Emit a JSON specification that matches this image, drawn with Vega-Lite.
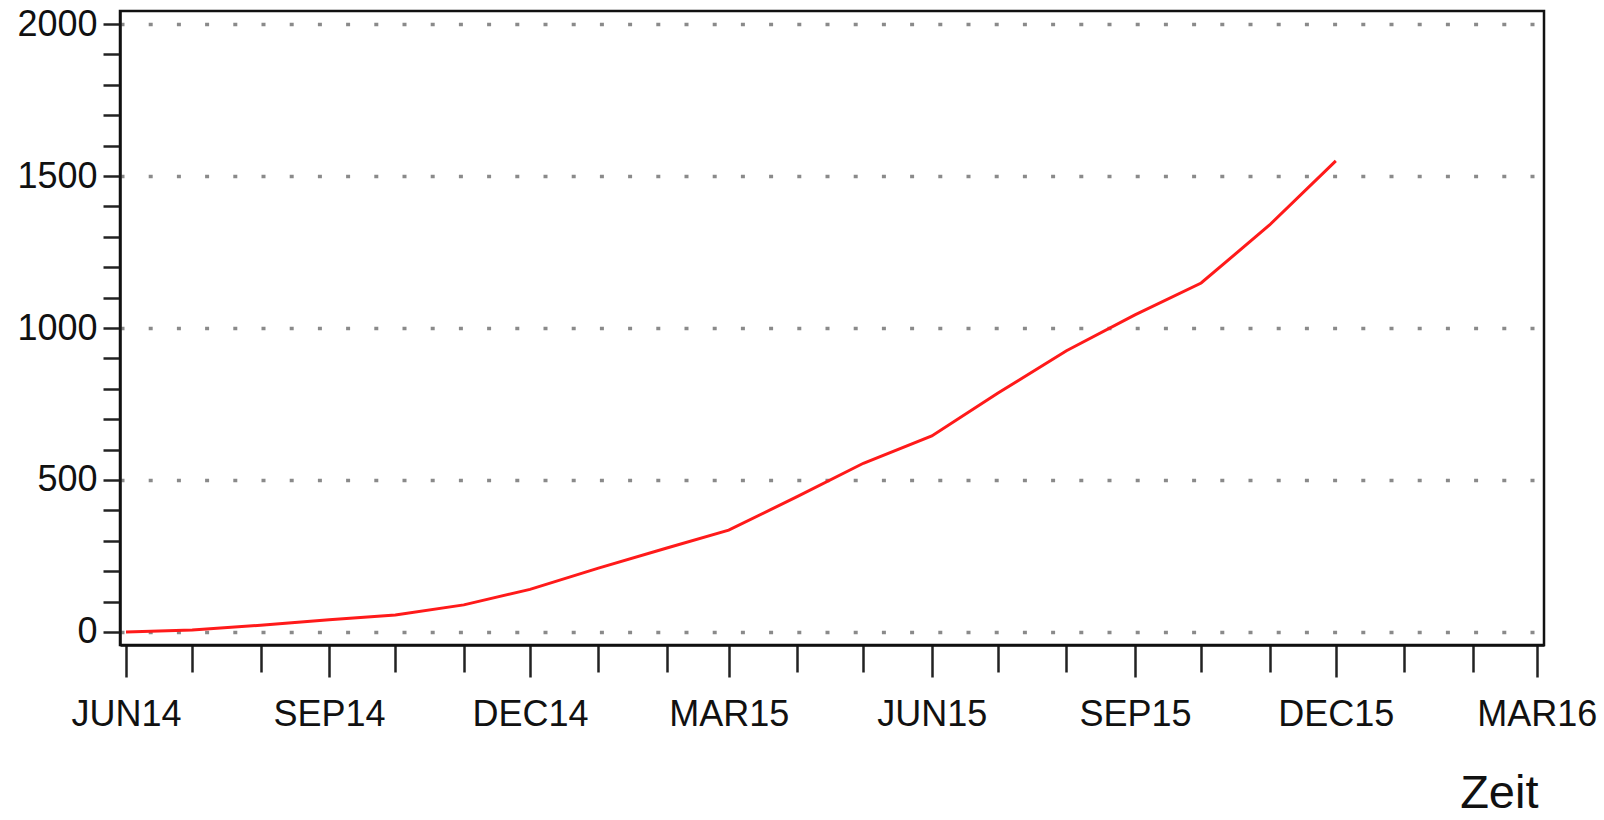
{
  "$schema": "https://vega.github.io/schema/vega-lite/v6.json",
  "autosize": "none",
  "width": 1424,
  "height": 634,
  "padding": {"left": 120, "top": 11, "right": 60, "bottom": 175},
  "background": "white",
  "config": {
    "view": {"stroke": "#111", "strokeWidth": 2.5},
    "font": "Liberation Sans"
  },
  "data": {
    "values": [
      {"datum": "2014-06-01", "wert": 0},
      {"datum": "2014-07-01", "wert": 6},
      {"datum": "2014-08-01", "wert": 22},
      {"datum": "2014-09-01", "wert": 40},
      {"datum": "2014-10-01", "wert": 56},
      {"datum": "2014-11-01", "wert": 89},
      {"datum": "2014-12-01", "wert": 140},
      {"datum": "2015-01-01", "wert": 210},
      {"datum": "2015-02-01", "wert": 276},
      {"datum": "2015-03-01", "wert": 335},
      {"datum": "2015-04-01", "wert": 445},
      {"datum": "2015-05-01", "wert": 555},
      {"datum": "2015-06-01", "wert": 645},
      {"datum": "2015-07-01", "wert": 786},
      {"datum": "2015-08-01", "wert": 925},
      {"datum": "2015-09-01", "wert": 1043},
      {"datum": "2015-10-01", "wert": 1148},
      {"datum": "2015-11-01", "wert": 1339},
      {"datum": "2015-12-01", "wert": 1550}
    ]
  },
  "mark": {"type": "line", "color": "#ff1a1a", "strokeWidth": 3},
  "encoding": {
    "x": {
      "field": "datum",
      "type": "temporal",
      "scale": {
        "type": "utc",
        "domain": [
          {"year": 2014, "month": 5, "date": 29, "hours": 7, "utc": true},
          {"year": 2016, "month": 3, "date": 4, "hours": 7, "utc": true}
        ]
      },
      "axis": {
        "title": "Zeit",
        "titleFont": "Liberation Sans",
        "titleFontSize": 47,
        "titleFontWeight": "normal",
        "titleColor": "#111",
        "titleAlign": "right",
        "titleBaseline": "alphabetic",
        "titleX": 1418,
        "titleY": 162,
        "values": [
          {"year": 2014, "month": 6, "date": 1, "utc": true},
          {"year": 2014, "month": 7, "date": 1, "utc": true},
          {"year": 2014, "month": 8, "date": 1, "utc": true},
          {"year": 2014, "month": 9, "date": 1, "utc": true},
          {"year": 2014, "month": 10, "date": 1, "utc": true},
          {"year": 2014, "month": 11, "date": 1, "utc": true},
          {"year": 2014, "month": 12, "date": 1, "utc": true},
          {"year": 2015, "month": 1, "date": 1, "utc": true},
          {"year": 2015, "month": 2, "date": 1, "utc": true},
          {"year": 2015, "month": 3, "date": 1, "utc": true},
          {"year": 2015, "month": 4, "date": 1, "utc": true},
          {"year": 2015, "month": 5, "date": 1, "utc": true},
          {"year": 2015, "month": 6, "date": 1, "utc": true},
          {"year": 2015, "month": 7, "date": 1, "utc": true},
          {"year": 2015, "month": 8, "date": 1, "utc": true},
          {"year": 2015, "month": 9, "date": 1, "utc": true},
          {"year": 2015, "month": 10, "date": 1, "utc": true},
          {"year": 2015, "month": 11, "date": 1, "utc": true},
          {"year": 2015, "month": 12, "date": 1, "utc": true},
          {"year": 2016, "month": 1, "date": 1, "utc": true},
          {"year": 2016, "month": 2, "date": 1, "utc": true},
          {"year": 2016, "month": 3, "date": 1, "utc": true}
        ],
        "labelExpr": "utcmonth(datum.value) % 3 === 2 ? upper(utcFormat(datum.value, '%b%y')) : ''",
        "labelFont": "Liberation Sans",
        "labelFontSize": 36,
        "labelColor": "#111",
        "labelOverlap": false,
        "labelFlush": false,
        "labelBound": false,
        "labelPadding": 20,
        "tickSize": {"condition": {"test": "utcmonth(datum.value) % 3 === 2", "value": 32}, "value": 27},
        "tickColor": "#222",
        "tickWidth": 2.5,
        "domainColor": "#111",
        "domainWidth": 2.5,
        "grid": false
      }
    },
    "y": {
      "field": "wert",
      "type": "quantitative",
      "scale": {"domain": [-43, 2043], "nice": false, "zero": false},
      "axis": {
        "title": null,
        "values": [0, 100, 200, 300, 400, 500, 600, 700, 800, 900, 1000, 1100, 1200, 1300, 1400, 1500, 1600, 1700, 1800, 1900, 2000],
        "format": "d",
        "labelExpr": "datum.value % 500 === 0 ? datum.label : ''",
        "labelFont": "Liberation Sans",
        "labelFontSize": 36,
        "labelColor": "#111",
        "labelOverlap": false,
        "labelPadding": 6,
        "labelBaseline": "middle",
        "tickSize": 17,
        "tickColor": "#222",
        "tickWidth": 2.5,
        "domainColor": "#111",
        "domainWidth": 2.5,
        "grid": true,
        "gridColor": "#8a8a8a",
        "gridWidth": 3.5,
        "gridDash": [4, 24.2],
        "gridOpacity": {"condition": {"test": "datum.value % 500 === 0", "value": 1}, "value": 0}
      }
    }
  }
}
